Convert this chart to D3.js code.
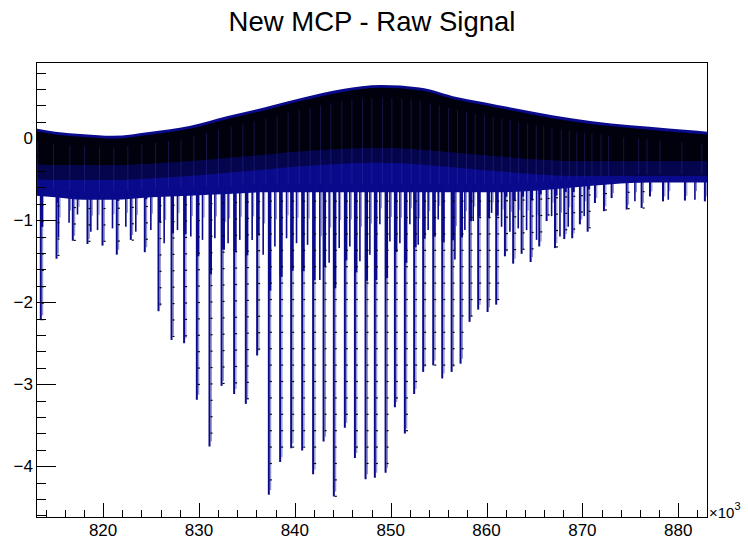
<!DOCTYPE html>
<html>
<head>
<meta charset="utf-8">
<script src="https://cdn.jsdelivr.net/npm/d3@7"></script>
<style>
  body { margin: 0; background: #fff; }
  svg { display: block; font-family: "Liberation Sans", Arial, Helvetica, sans-serif; }
</style>
</head>
<body>
<div id="chart"></div>
<script>
// ---- data (x in units of 10^3) ----
var titleText = "New MCP - Raw Signal";

// envelope of the dense band
var envX     = [813, 815, 818, 821, 825, 829, 833, 837, 841, 845, 849, 853, 857, 861, 865, 869, 873, 877, 881, 883];
var envTop   = [0.12, 0.08, 0.05, 0.03, 0.08, 0.15, 0.27, 0.38, 0.50, 0.60, 0.65, 0.62, 0.50, 0.41, 0.32, 0.24, 0.18, 0.14, 0.10, 0.08];
var envBlack = [-0.32, -0.33, -0.33, -0.33, -0.31, -0.28, -0.24, -0.20, -0.16, -0.13, -0.12, -0.14, -0.18, -0.22, -0.26, -0.28, -0.28, -0.28, -0.28, -0.28];
var envBlue  = [-0.70, -0.72, -0.75, -0.75, -0.72, -0.70, -0.68, -0.66, -0.66, -0.66, -0.66, -0.66, -0.66, -0.66, -0.64, -0.60, -0.56, -0.54, -0.54, -0.54];

// big periodic pulses: position and minimum
var pulseX = [813.50, 815.14, 816.84, 818.37, 819.94, 821.43, 822.89, 824.35, 825.78, 827.14,
              828.45, 829.78, 831.10, 832.36, 833.67, 834.89, 836.07, 837.29, 838.47, 839.62,
              840.77, 841.91, 843.00, 844.07, 845.22, 846.27, 847.38, 848.35, 849.47, 850.44,
              851.48, 852.45, 853.39, 854.44, 855.38, 856.36, 857.29, 858.23, 859.13, 860.11,
              861.01, 861.92, 862.78, 863.66, 864.60, 865.50, 866.27, 867.14, 868.11, 868.94,
              869.74, 870.55, 871.31, 872.25, 873.05, 874.62, 876.18, 877.05, 878.41, 880.70, 882.78];
var pulseY = [-2.22, -1.47, -1.25, -1.29, -1.31, -1.42, -1.24, -1.39, -2.11, -2.46,
              -2.50, -3.19, -3.76, -3.02, -3.12, -3.24, -2.65, -4.35, -3.95, -3.78,
              -3.81, -4.10, -3.70, -4.37, -3.53, -3.90, -4.16, -4.14, -4.08, -3.28,
              -3.60, -3.12, -2.85, -2.77, -2.93, -2.85, -2.75, -2.24, -2.09, -2.12,
              -2.03, -1.44, -1.53, -1.41, -1.51, -1.32, -1.01, -1.34, -1.23, -1.22,
              -1.05, -1.14, -0.79, -0.89, -0.73, -0.87, -0.85, -0.71, -0.77, -0.76, -0.77];

// smaller noise spikes between the pulses
var spikeX = [815.35, 816.45, 817.33, 818.72, 819.42, 820.98, 822.37, 823.41, 824.98, 826.37,
              827.76, 829.15, 830.37, 831.66, 832.63, 833.04, 834.26, 835.55, 836.70, 837.92,
              839.14, 840.18, 841.33, 842.61, 843.58, 844.63, 845.74, 846.79, 847.83, 848.87,
              849.92, 850.96, 852.00, 852.87, 853.91, 854.96, 856.70, 857.74, 858.61, 860.53,
              861.57, 862.44, 863.31, 864.18, 865.22, 866.79, 867.66, 868.52, 870.19, 875.48,
              878.96, 881.74];
var spikeY = [-1.21, -1.03, -0.93, -1.14, -1.12, -1.10, -1.08, -1.14, -1.12, -1.28,
              -1.12, -1.20, -1.24, -1.22, -1.36, -1.28, -1.24, -1.24, -1.42, -1.32,
              -1.22, -1.28, -1.30, -1.73, -1.52, -1.34, -1.32, -1.50, -1.42, -1.05,
              -1.26, -1.28, -1.05, -1.30, -1.12, -0.99, -1.48, -1.12, -1.01, -0.91,
              -1.08, -1.14, -1.10, -1.12, -1.24, -0.95, -1.20, -1.08, -0.95, -0.77,
              -0.75, -0.75];

var xTicks = [820, 830, 840, 850, 860, 870, 880];
var yTicks = [-4, -3, -2, -1, 0];

// ---- layout ----
var W = 748, H = 543;
var frame = {left: 36, right: 707, top: 62, bottom: 517};
var lineBlue = "#0a0a8c";

var svg = d3.select("#chart").append("svg").attr("width", W).attr("height", H);

var x = d3.scaleLinear().domain([813, 883]).range([frame.left, frame.right]);
var y = d3.scaleLinear().domain([-4.62, 0.93]).range([frame.bottom, frame.top]);

// envelope lookups used to attach spikes to the band
var bandTop = d3.scaleLinear().domain(envX).range(envTop);
var bandBottom = d3.scaleLinear().domain(envX).range(envBlue);
var bandBlack = d3.scaleLinear().domain(envX).range(envBlack);

var env = envX.map(function (d, i) { return {x: d, top: envTop[i], black: envBlack[i], blue: envBlue[i]}; });

svg.append("clipPath").attr("id", "clip")
  .append("rect").attr("x", frame.left).attr("y", frame.top)
  .attr("width", frame.right - frame.left).attr("height", frame.bottom - frame.top);
var g = svg.append("g").attr("clip-path", "url(#clip)");

// blue part of the band
g.append("path").datum(env)
  .attr("fill", lineBlue)
  .attr("d", d3.area().curve(d3.curveMonotoneX)
    .x(function (d) { return x(d.x); })
    .y0(function (d) { return y(d.blue); })
    .y1(function (d) { return y(d.top); }));

// spikes and pulses as vertical lines
g.selectAll("line.spike").data(spikeX).enter().append("line")
  .attr("class", "spike")
  .attr("x1", function (d) { return x(d); }).attr("x2", function (d) { return x(d); })
  .attr("y1", function (d) { return y(bandBottom(d) + 0.1); })
  .attr("y2", function (d, i) { return y(spikeY[i]); })
  .attr("stroke", lineBlue).attr("stroke-width", 1.6);

g.selectAll("line.spikeHalo").data(spikeX).enter().append("line")
  .attr("class", "spikeHalo")
  .attr("x1", function (d) { return x(d) + 1.5; }).attr("x2", function (d) { return x(d) + 1.5; })
  .attr("y1", function (d) { return y(bandBottom(d) + 0.1); })
  .attr("y2", function (d, i) { return y((spikeY[i] + bandBottom(d)) / 2); })
  .attr("stroke", lineBlue).attr("stroke-opacity", 0.5).attr("stroke-width", 1);

g.selectAll("line.pulse").data(pulseX).enter().append("line")
  .attr("class", "pulse")
  .attr("x1", function (d) { return x(d); }).attr("x2", function (d) { return x(d); })
  .attr("y1", function (d) { return y(bandBlack(d)); })
  .attr("y2", function (d, i) { return y(pulseY[i]); })
  .attr("stroke", lineBlue).attr("stroke-width", 2);

g.selectAll("line.pulseHalo").data(pulseX).enter().append("line")
  .attr("class", "pulseHalo")
  .attr("x1", function (d) { return x(d) + 1.8; }).attr("x2", function (d) { return x(d) + 1.8; })
  .attr("y1", function (d) { return y(bandBlack(d)); })
  .attr("y2", function (d, i) { return y(pulseY[i] + 0.06); })
  .attr("stroke", lineBlue).attr("stroke-opacity", 0.45).attr("stroke-width", 1.2);

// wider dark part of each pulse near the band
g.selectAll("line.pulseBody").data(pulseX).enter().append("line")
  .attr("class", "pulseBody")
  .attr("x1", function (d) { return x(d) + 1; }).attr("x2", function (d) { return x(d) + 1; })
  .attr("y1", function (d) { return y(bandBlack(d)); })
  .attr("y2", function (d, i) { return y(bandBlack(d) + (pulseY[i] - bandBlack(d)) * 0.4); })
  .attr("stroke", lineBlue).attr("stroke-width", 3);

// black markers of the dense part of the band
g.append("path").datum(env)
  .attr("fill", "#000").attr("opacity", 0.9)
  .attr("d", d3.area().curve(d3.curveMonotoneX)
    .x(function (d) { return x(d.x); })
    .y0(function (d) { return y(d.black); })
    .y1(function (d) { return y(d.top - 0.035); }));
g.append("path").datum(env)
  .attr("fill", "#000").attr("opacity", 0.45)
  .attr("d", d3.area().curve(d3.curveMonotoneX)
    .x(function (d) { return x(d.x); })
    .y0(function (d) { return y(d.black - 0.18); })
    .y1(function (d) { return y(d.black); }));

// faint slits in the band between the pulses
g.selectAll("line.slit").data(pulseX).enter().append("line")
  .attr("class", "slit")
  .attr("x1", function (d) { return x(d) - 3; }).attr("x2", function (d) { return x(d) - 3; })
  .attr("y1", function (d) { return y(bandTop(d) - 0.15); })
  .attr("y2", function (d) { return y(bandBottom(d) + 0.1); })
  .attr("stroke", "#3a3ab0").attr("stroke-opacity", 0.35).attr("stroke-width", 1);

// sample markers along the pulse edges
pulseX.forEach(function (px, i) {
  var start = bandBottom(px), end = pulseY[i];
  if (end > start - 0.3) return;
  var pts = d3.range(start - 0.1, end, -0.2);
  g.selectAll(null).data(pts).enter().append("rect")
    .attr("x", x(px) + 1).attr("y", function (d) { return y(d); })
    .attr("width", 2).attr("height", 1.2).attr("fill", "#000");
});

// ---- frame and axes (ROOT style, ticks inside) ----
var axes = svg.append("g").attr("stroke", "#000").attr("stroke-width", 1).attr("fill", "none");
axes.append("rect").attr("x", frame.left + 0.5).attr("y", frame.top + 0.5)
  .attr("width", frame.right - frame.left).attr("height", frame.bottom - frame.top);

var xMinor = d3.range(814, 884, 2);
axes.selectAll("line.xminor").data(xMinor).enter().append("line")
  .attr("x1", function (d) { return Math.round(x(d)) + 0.5; })
  .attr("x2", function (d) { return Math.round(x(d)) + 0.5; })
  .attr("y1", frame.bottom).attr("y2", function (d) { return frame.bottom - (d % 10 === 0 ? 14 : 7); });

var yMinor = d3.range(-46, 10, 2).map(function (d) { return d / 10; });
axes.selectAll("line.yminor").data(yMinor).enter().append("line")
  .attr("y1", function (d) { return Math.round(y(d)) + 0.5; })
  .attr("y2", function (d) { return Math.round(y(d)) + 0.5; })
  .attr("x1", frame.left).attr("x2", function (d) { return frame.left + (Math.abs(d - Math.round(d)) < 1e-6 ? 20 : 10); });

svg.selectAll("text.xl").data(xTicks).enter().append("text")
  .attr("x", function (d) { return x(d); }).attr("y", 536)
  .attr("text-anchor", "middle").attr("font-size", 17).attr("fill", "#000")
  .text(function (d) { return d; });

svg.selectAll("text.yl").data(yTicks).enter().append("text")
  .attr("x", 33).attr("y", function (d) { return y(d); }).attr("dy", "0.36em")
  .attr("text-anchor", "end").attr("font-size", 17).attr("fill", "#000")
  .text(function (d) { return d < 0 ? "\u2212" + Math.abs(d) : d; });

var mult = svg.append("text").attr("x", 709).attr("y", 518).attr("font-size", 15).attr("fill", "#000");
mult.append("tspan").text("\u00d710");
mult.append("tspan").attr("dy", -8).attr("font-size", 11).text("3");

svg.append("text").attr("x", 372).attr("y", 31)
  .attr("text-anchor", "middle").attr("font-size", 27.5).attr("fill", "#000")
  .text(titleText);
</script>
</body>
</html>
